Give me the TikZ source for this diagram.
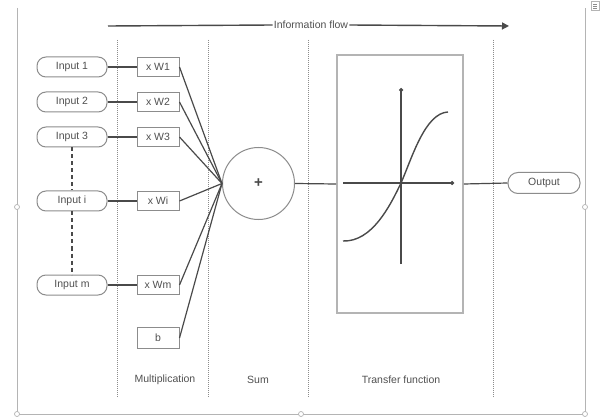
\documentclass[tikz,border=0pt]{standalone}
\usepackage{fontspec}
\setmainfont{Liberation Sans}
\usetikzlibrary{arrows.meta}
\definecolor{ink}{HTML}{4A4A4A}
\definecolor{txt}{HTML}{505050}
\definecolor{edge}{HTML}{8C8C8C}
\definecolor{frame}{HTML}{B4B4B4}
\tikzset{
  inp/.style={draw=edge, line width=1pt, rounded corners=9pt, minimum width=70pt, minimum height=20pt, inner sep=0pt, text=txt, font=\fontsize{10.5}{12}\selectfont},
  wbox/.style={draw=edge, line width=1pt, minimum width=42pt, minimum height=19pt, inner sep=0pt, text=txt, font=\fontsize{10.5}{12}\selectfont},
  conn/.style={draw=ink, line width=1.2pt},
  sepline/.style={draw=edge, line width=0.9pt, dash pattern=on 1pt off 1pt},
  lbl/.style={text=txt, font=\fontsize{10.5}{12}\selectfont, inner sep=1pt},
  framel/.style={draw=frame, line width=0.9pt},
  handle/.style={draw=frame, fill=white, line width=0.7pt},
}
\begin{document}
\begin{tikzpicture}[x=1pt, y=-1pt]
\useasboundingbox (0,0) rectangle (603,417);
\fill[white] (0,0) rectangle (603,417);
% frame of the picture
\draw[framel] (17,8) -- (17,414) -- (585,414) -- (585,8);
\foreach \p in {(17,207),(585,207),(17,414),(585,414),(301,414)}
  \draw[handle] \p circle (2.5);
\draw[draw=frame, line width=0.6pt, fill=white] (591,1) rectangle (599,10);
\draw[draw=edge, line width=0.6pt] (593,4) -- (597,4) (593,6) -- (597,6) (593,8) -- (597,8);
% separators
\foreach \x in {117,208,308,493}
  \draw[sepline] (\x,40) -- (\x,398);
% information flow
\node[lbl] (flow) at (311,25) {Information flow};
\coordinate (fs) at (108,26);
\coordinate (fe) at (509,26);
\draw[conn, line width=1.4pt] (fs) -- (flow.west);
\draw[conn, line width=1.4pt, -{Triangle[length=7pt,width=7pt]}] (flow.east) -- (fe);
% inputs
\node[inp] (in1) at (72,67) {Input 1};
\node[inp] (in2) at (72,102) {Input 2};
\node[inp] (in3) at (72,137) {Input 3};
\node[inp] (ini) at (72,201) {Input i};
\node[inp] (inm) at (72,285) {Input m};
% weights
\node[wbox] (w1) at (158,67) {x W1};
\node[wbox] (w2) at (158,102) {x W2};
\node[wbox] (w3) at (158,137) {x W3};
\node[wbox] (wi) at (158,201) {x Wi};
\node[wbox] (wm) at (158,285) {x Wm};
\node[wbox, minimum height=21pt] (b) at (158,338) {b};
% sum
\node[circle, draw=edge, line width=1pt, minimum size=72pt, inner sep=0pt, text=ink, font=\fontsize{15}{16}\selectfont\bfseries] (sum) at (258.5,183.5) {+};
% transfer function
\node[draw=frame, line width=1.6pt, minimum width=126pt, minimum height=258pt, inner sep=0pt] (tf) at (400,184) {};
\node[inp, minimum width=72pt, minimum height=21pt, rounded corners=10pt] (out) at (544,183) {Output};
% connectors
\foreach \a/\bb in {in1/w1,in2/w2,in3/w3,ini/wi,inm/wm}
  \draw[conn] (\a.east) -- (\bb.west);
\draw[conn, dash pattern=on 4pt off 3pt] (in3.south) -- (ini.north);
\draw[conn, dash pattern=on 4pt off 3pt] (ini.south) -- (inm.north);
\foreach \w in {w1,w2,w3,wi,wm,b}
  \draw[conn] (\w.east) -- (sum.west);
\draw[conn] (sum.east) -- (tf.west);
\draw[conn] (tf.east) -- (out.west);
% axes and curve
\coordinate (ax0) at (343,183);
\coordinate (ax1) at (454,183);
\coordinate (ay0) at (401,264);
\coordinate (ay1) at (401,88);
\draw[conn, -{Circle[length=4pt]}] (ax0) -- (ax1);
\draw[conn, -{Circle[length=4pt]}] (ay0) -- (ay1);
\draw[conn, line width=1.4pt] (343,241) .. controls (372,242) and (390,206) .. (401,183)
  .. controls (412,158) and (425,113) .. (448,112);
% labels
\node[lbl] (lm) at (165,380) {Multiplication};
\node[lbl] (ls) at (258,380) {Sum};
\node[lbl] (lt) at (401,380) {Transfer function};
\end{tikzpicture}
\end{document}
